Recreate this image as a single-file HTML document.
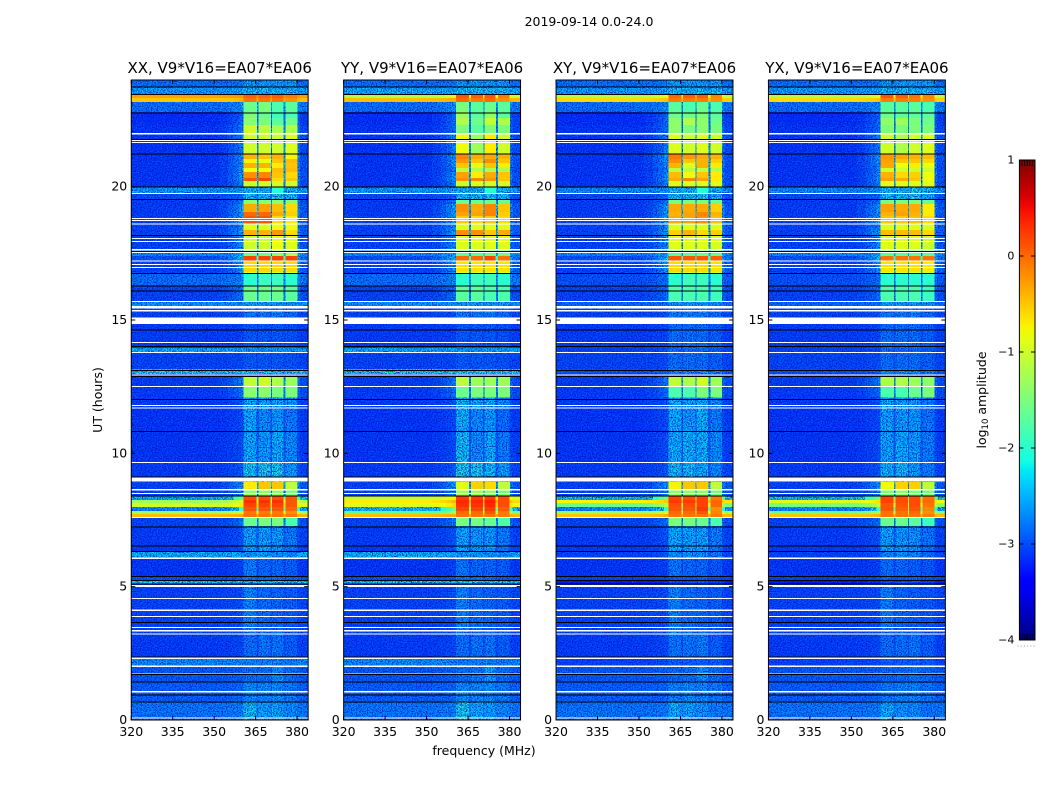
<!DOCTYPE html>
<html>
<head>
<meta charset="utf-8">
<title>2019-09-14 0.0-24.0</title>
<style>
html,body{margin:0;padding:0;background:#fff;}
svg{display:block;}
text{font-family:"DejaVu Sans","Liberation Sans",sans-serif;fill:#000;}
</style>
</head>
<body>
<svg id="fig" xmlns="http://www.w3.org/2000/svg" width="1050" height="800" viewBox="0 0 1050 800">
<defs>
<filter id="speckle" x="0" y="0" width="1" height="1" color-interpolation-filters="sRGB">
<feTurbulence type="fractalNoise" baseFrequency="0.8" numOctaves="1" seed="7" result="n"/>
<feColorMatrix in="n" type="matrix" values="0 0 0 0 0  0 0 0 0 0.42  0 0 0 0 1  3 0 0 0 -1.4" result="light"/>
<feColorMatrix in="n" type="matrix" values="0 0 0 0 0  0 0 0 0 0.05  0 0 0 0 0.78  0 3 0 0 -1.25" result="dark"/>
<feMerge result="m"><feMergeNode in="light"/><feMergeNode in="dark"/></feMerge>
<feComposite in="m" in2="SourceGraphic" operator="atop"/>
</filter>
<linearGradient id="jet-gradient" x1="0" y1="1" x2="0" y2="0"></linearGradient>
</defs>
<text x="589" y="26" font-size="12.5" text-anchor="middle">2019-09-14 0.0-24.0</text>
<text x="0" y="0" font-size="12.5" text-anchor="middle" transform="translate(102 400) rotate(-90)">UT (hours)</text>
<text x="484" y="755" font-size="12.5" text-anchor="middle">frequency (MHz)</text>
<text x="0" y="0" font-size="12.5" text-anchor="middle" transform="translate(986 400) rotate(-90)">log<tspan font-size="8.5" dy="2">10</tspan><tspan dy="-2"> amplitude</tspan></text>
<g id="panels"></g>
<g id="colorbar"></g>
</svg>
<script>
// ---- shared axes data ----
var panelNames = ["XX", "YY", "XY", "YX"];
var panelTitleSuffix = ", V9*V16=EA07*EA06";
var xTicks = [320, 335, 350, 365, 380];
var yTicks = [0, 5, 10, 15, 20];
var colorbarTicks = [1, 0, -1, -2, -3, -4];
var colorbarTickLabels = ["1", "0", "\u22121", "\u22122", "\u22123", "\u22124"];

// time rows (hours, top to bottom)
var rowEdgeHours = [24,23.74,23.44,23.33,23.18,22.80,22.58,22.31,21.98,21.23,21.04,20.89,20.70,20.55,20.33,20.21,19.99,19.73,19.50,19.35,19.05,18.90,18.60,18.38,18.15,17.63,17.40,17.21,16.80,16.73,16.28,15.68,15.49,15.11,13.95,13.76,13.16,12.98,12.86,12.49,12.11,11.70,10.84,9.64,8.93,8.63,8.40,8.25,8.14,7.99,7.84,7.73,7.61,7.28,6.30,6.04,5.36,5.25,5.10,4.99,3.19,2.33,2.03,1.46,0.71,0];

// frequency bins (MHz). binWindow: index of spectral window, -1 = background bin
var freqEdges = [320,345,352,355,357,359,360.6,365.3,366,370.4,370.9,375,375.8,380,381,384];
var binWindow = [-1,-1,-1,-1,-1,-1,0,-1,1,-1,2,-1,3,-1,-1];
var binLeak = [0,0,0.04,0.1,0.16,0.25,0,0.32,0,0.32,0,0.32,0,0.2,0.08];

// background log10 amplitude per row
var bgXX = [-2.7,-2.4,-.3,-.5,-2.7,-3.15,-3.15,-3.1,-3.1,-3.1,-3.1,-3.1,-3.1,-3.1,-3.1,-3.1,-2.4,-2.95,-3.05,-3.05,-3.05,-3,-3,-3,-3,-2.5,-2.9,-3,-3,-2.7,-3,-2.45,-3,-3.05,-2.3,-3,-2.1,-3,-3.05,-3.05,-3.05,-3.1,-3.1,-3.05,-3,-3,-2.3,-1.3,-1,-2.5,-1.3,-.45,-3,-3.05,-2.25,-3.1,-2.9,-2.15,-3.1,-3,-3.05,-2.5,-2.85,-2.8,-2.65];
var bgYY = [-2.7,-2.3,-1.2,-.45,-2.7,-3.15,-3.15,-3.1,-3.1,-3.1,-3.1,-3.1,-3.1,-3.1,-3.1,-3.1,-2.4,-2.95,-3.05,-3.05,-3.05,-3,-3,-3,-3,-2.5,-2.9,-3,-3,-2.7,-3,-2.45,-3,-3.05,-2.3,-3,-2.1,-3,-3.05,-3.05,-3.05,-3.1,-3.1,-3.05,-3,-3,-1.1,-.7,-.9,-2.2,-1.7,-.45,-3,-3.05,-2.25,-3.1,-2.9,-2.15,-3.1,-3,-3.05,-2.5,-2.85,-2.8,-2.65];
var bgXY = [-2.7,-2.4,-1.2,-.6,-2.7,-3.15,-3.15,-3.1,-3.1,-3.1,-3.1,-3.1,-3.1,-3.1,-3.1,-3.1,-2.5,-2.95,-3.05,-3.05,-3.05,-3,-3,-3,-3,-2.5,-2.9,-3,-3,-2.9,-3,-2.75,-3,-3.05,-3,-3,-2.9,-3,-3.05,-3.05,-3.05,-3.1,-3.1,-3.05,-3,-3,-2.2,-.75,-1.6,-2.5,-1.3,-.5,-3,-3.05,-3,-3.1,-3,-3.3,-3.1,-3,-3.05,-3,-2.85,-2.8,-2.65];
var bgYX = [-2.7,-2.4,-1.2,-.6,-2.7,-3.15,-3.15,-3.1,-3.1,-3.1,-3.1,-3.1,-3.1,-3.1,-3.1,-3.1,-2.5,-2.95,-3.05,-3.05,-3.05,-3,-3,-3,-3,-2.5,-2.9,-3,-3,-2.9,-3,-2.75,-3,-3.05,-3,-3,-2.9,-3,-3.05,-3.05,-3.05,-3.1,-3.1,-3.05,-3,-3,-2.2,-.9,-1.5,-2.5,-1.6,-.5,-3,-3.05,-3,-3.1,-3,-3.3,-3.1,-3,-3.05,-3,-2.85,-2.8,-2.65];

// four spectral-window log10 amplitudes per row
var spwXX = [[-2.4,-2.4,-2.4,-2.4],[-2.2,-2.2,-2.2,-2.2],[.05,.05,.05,-.1],[-.05,-.05,-.05,-.2],[-1.6,-1.5,-1.8,-1.7],[-1.5,-1.6,-1.9,-1.8],[-1.4,-1.5,-1.7,-1.6],[-1,-1.1,-1.2,-1.2],[-1,-1,-1,-.9],[-.4,-.5,-.4,-.75],[-.75,-.8,-.5,-.45],[-.4,-.4,-.7,-.5],[-.8,-.8,-.45,-.45],[-.2,-.15,-.5,-.6],[.1,.2,-.6,-.5],[-1,-1,-1,-1],[-2.2,-2.2,-2,-2.2],[-2.2,-2.2,-2.1,-2.2],[-1.4,-1.4,-1.4,-1.4],[-.35,-.3,-.45,-.6],[0,0,-.35,-.55],[.1,.1,-.6,-.7],[-.9,-.9,-.8,-.8],[-.4,-.4,-.25,-.6],[-1,-1,-.8,-.9],[-1.6,-1.6,-1.4,-1.2],[.2,.2,.2,.2],[-.6,-.6,-.6,-.6],[-.9,-.9,-.9,-.9],[-2,-1.9,-1.9,-2],[-1.6,-1.6,-1.6,-1.7],[-2.4,-2.4,-2.4,-2.4],[-2.6,-2.6,-2.6,-2.7],[-2.85,-2.85,-2.85,-2.9],[-2.4,-2.4,-2.4,-2.4],[-2.85,-2.85,-2.85,-2.9],[-2.1,-2.1,-2.1,-2.1],[-2.8,-2.8,-2.8,-2.8],[-1.1,-1,-1.2,-1.3],[-1.4,-1.4,-1.5,-1.5],[-2.3,-2.3,-2.3,-2.4],[-2.3,-2.5,-2.4,-2.6],[-2.3,-2.4,-2.3,-2.5],[-2.15,-2.05,-2.1,-2.4],[-.7,-.5,-.5,-1.1],[-1.4,-1.4,-1.4,-1.5],[.15,.15,.15,.1],[.3,.3,.3,.1],[.2,.2,.2,.1],[.1,.1,.1,.0],[-.1,-.1,-.1,-.2],[-.05,-.05,-.05,-.1],[-1.6,-1.5,-1.5,-1.8],[-2.35,-2.35,-2.4,-2.6],[-2.4,-2.4,-2.45,-2.5],[-2.6,-2.75,-2.75,-2.8],[-2.7,-2.7,-2.7,-2.8],[-2.15,-2.15,-2.15,-2.15],[-2.8,-2.8,-2.8,-2.9],[-2.55,-2.7,-2.75,-2.8],[-2.7,-2.65,-2.65,-2.8],[-2.55,-2.55,-2.55,-2.6],[-2.7,-2.7,-2.5,-2.7],[-2.5,-2.5,-2.5,-2.6],[-2.2,-2.35,-2.35,-2.5]];
var spwYY = [[-2.4,-2.4,-2.4,-2.4],[-2.2,-2.2,-2.2,-2.2],[.1,.05,.1,-.1],[.0,-.1,.0,-.2],[-1.5,-1.7,-1.6,-1.7],[-1.3,-1.7,-1.4,-1.7],[-1.2,-1.6,-1.1,-1.2],[-1.5,-1.7,-1.5,-1.5],[-.8,-1.3,-.7,-1],[-.15,-.35,-.35,-.4],[-.25,-.5,-.2,-.5],[-.5,-.85,-.5,-.7],[-1.1,-1.2,-1.2,-1.2],[-.3,-.7,-.35,-.5],[-.2,-.15,-.25,-.5],[-1,-.9,-1,-1],[-2.2,-2.2,-2,-2.2],[-2.2,-2.2,-2.1,-2.2],[-1.6,-1.6,-1.6,-1.6],[-.2,-.35,-.15,-.5],[-.3,-.3,-.15,-.55],[-.5,-.6,-.5,-.6],[-.9,-.9,-.9,-.9],[-.2,-.2,-.5,-.35],[-.9,-.9,-.9,-.9],[-1.7,-1.7,-1.6,-1.6],[.0,.0,.2,-.05],[-.65,-.65,-.65,-.65],[-.9,-.9,-.9,-.9],[-2,-1.9,-1.9,-2],[-1.7,-1.7,-1.8,-1.8],[-2.4,-2.4,-2.4,-2.4],[-2.6,-2.6,-2.6,-2.7],[-2.85,-2.85,-2.85,-2.9],[-2.4,-2.4,-2.4,-2.4],[-2.85,-2.85,-2.85,-2.9],[-2.1,-2.1,-2.1,-2.1],[-2.8,-2.8,-2.8,-2.8],[-1.1,-1.3,-1.3,-1.3],[-1.6,-1.5,-1.5,-1.5],[-2.2,-2.3,-2.3,-2.5],[-2.25,-2.5,-2.4,-2.7],[-2.2,-2.5,-2.3,-2.6],[-2.1,-2.1,-2.2,-2.4],[-.9,-.55,-.6,-1.1],[-1.3,-1.3,-1.4,-1.5],[.25,.25,.25,.15],[.35,.35,.4,.15],[.3,.3,.35,.15],[.2,.2,.25,.05],[.0,.0,.1,-.1],[-.05,-.05,-.05,-.1],[-1.5,-1.5,-1.6,-1.8],[-2.35,-2.4,-2.4,-2.6],[-2.4,-2.4,-2.45,-2.5],[-2.65,-2.75,-2.75,-2.8],[-2.7,-2.7,-2.7,-2.8],[-2.15,-2.15,-2.15,-2.15],[-2.8,-2.8,-2.8,-2.9],[-2.55,-2.7,-2.75,-2.8],[-2.7,-2.65,-2.65,-2.8],[-2.55,-2.55,-2.55,-2.6],[-2.7,-2.65,-2.4,-2.7],[-2.5,-2.5,-2.5,-2.6],[-2.1,-2.3,-2.35,-2.5]];
var spwXY = [[-2.4,-2.4,-2.4,-2.4],[-2.2,-2.2,-2.2,-2.2],[.0,.05,.05,-.15],[-.1,-.1,-.1,-.2],[-1.7,-1.8,-1.6,-1.8],[-1.6,-1.6,-1.5,-1.7],[-1.4,-1.2,-1.4,-1.6],[-1.4,-1.5,-1.4,-1.5],[-.9,-1,-.9,-1],[-.1,-.25,-.35,-.4],[-.2,-.5,-.4,-.55],[-.4,-.9,-.4,-.7],[-1.1,-1.1,-1.1,-1.2],[-.45,-.8,-.5,-.7],[-.35,-.15,-.3,-.7],[-.9,-.9,-.9,-.9],[-2.2,-2.2,-2,-2.2],[-2.2,-2.2,-2.1,-2.3],[-1.5,-1.5,-1.5,-1.6],[-.35,-.35,-.35,-.55],[-.4,-.3,-.15,-.4],[-.35,-.3,-.2,-.45],[-.9,-.9,-.9,-.9],[-.55,-.4,-.6,-.55],[-.9,-.9,-.9,-.95],[-1.7,-1.7,-1.6,-1.7],[.1,.1,.1,.05],[-.6,-.6,-.6,-.65],[-.9,-.9,-.9,-.9],[-2,-1.9,-1.9,-2],[-1.8,-1.8,-1.8,-1.9],[-2.4,-2.4,-2.4,-2.4],[-2.6,-2.6,-2.6,-2.7],[-2.7,-2.7,-2.7,-2.8],[-2.7,-2.7,-2.7,-2.8],[-2.7,-2.7,-2.7,-2.8],[-2.5,-2.5,-2.5,-2.6],[-2.8,-2.8,-2.8,-2.8],[-1.1,-1.2,-1,-1.3],[-1.8,-1.8,-1.5,-1.5],[-2.3,-2.35,-2.3,-2.5],[-2.3,-2.4,-2.25,-2.6],[-2.3,-2.25,-2.25,-2.5],[-2.2,-2.2,-2.3,-2.5],[-.75,-.5,-.5,-1.1],[-1.4,-1.4,-1.4,-1.5],[.2,.15,.2,-.1],[.25,.25,.2,.0],[.15,.15,.2,.0],[.1,.1,.25,-.2],[.0,.0,.1,-.15],[-.05,-.05,-.05,-.1],[-1.5,-1.5,-1.6,-1.8],[-2.3,-2.35,-2.35,-2.6],[-2.45,-2.45,-2.45,-2.6],[-2.65,-2.75,-2.75,-2.85],[-2.8,-2.8,-2.8,-2.9],[-2.9,-2.9,-2.9,-3],[-2.8,-2.9,-2.9,-2.9],[-2.55,-2.7,-2.75,-2.8],[-2.65,-2.65,-2.6,-2.8],[-2.8,-2.8,-2.8,-2.8],[-2.75,-2.7,-2.5,-2.7],[-2.55,-2.5,-2.5,-2.6],[-2.25,-2.35,-2.45,-2.6]];
var spwYX = [[-2.4,-2.4,-2.4,-2.4],[-2.2,-2.2,-2.2,-2.2],[.1,.05,-.05,-.15],[-.1,-.1,-.1,-.2],[-1.7,-1.7,-1.7,-1.8],[-1.6,-1.7,-1.7,-1.7],[-1.4,-1.3,-1.5,-1.6],[-1.5,-1.5,-1.5,-1.5],[-1,-1.2,-1,-.9],[-.25,-.35,-.4,-.45],[-.3,-.5,-.5,-.6],[-.35,-.8,-.7,-.8],[-1,-1,-1,-1],[-.4,-.6,-.55,-.8],[-.3,-.35,-.5,-.8],[-.9,-.9,-.9,-.9],[-2.2,-2.2,-2.1,-2.2],[-2.2,-2.2,-2.1,-2.3],[-1.5,-1.5,-1.5,-1.6],[-.3,-.35,-.35,-.7],[-.4,-.3,-.4,-.7],[-.5,-.5,-.45,-.6],[-.9,-.9,-.9,-.9],[-.45,-.45,-.45,-.6],[-.9,-.9,-.9,-1],[-1.7,-1.7,-1.7,-1.7],[-.05,-.05,-.05,-.05],[-.65,-.65,-.65,-.7],[-.9,-.9,-.9,-.9],[-2,-2,-2,-2],[-1.8,-1.8,-1.8,-1.9],[-2.4,-2.4,-2.4,-2.4],[-2.6,-2.6,-2.6,-2.7],[-2.7,-2.7,-2.7,-2.8],[-2.7,-2.7,-2.7,-2.8],[-2.7,-2.7,-2.7,-2.8],[-2.5,-2.5,-2.5,-2.6],[-2.8,-2.8,-2.8,-2.8],[-1.2,-1.2,-1.3,-1.4],[-1.8,-1.8,-1.6,-1.5],[-2.3,-2.35,-2.4,-2.6],[-2.35,-2.4,-2.4,-2.65],[-2.35,-2.3,-2.4,-2.6],[-2.25,-2.2,-2.4,-2.6],[-.8,-.55,-.55,-1.1],[-1.5,-1.4,-1.5,-1.5],[.2,.15,.15,-.05],[.2,.15,.15,.0],[.1,.1,.15,-.05],[.1,.05,.1,-.15],[-.05,-.05,.0,-.2],[-.05,-.05,-.05,-.1],[-1.6,-1.6,-1.7,-1.9],[-2.35,-2.4,-2.45,-2.65],[-2.5,-2.5,-2.5,-2.7],[-2.7,-2.75,-2.8,-2.85],[-2.8,-2.8,-2.8,-2.9],[-2.9,-2.9,-2.9,-3],[-2.8,-2.9,-2.9,-2.9],[-2.6,-2.75,-2.8,-2.85],[-2.7,-2.7,-2.65,-2.8],[-2.8,-2.8,-2.8,-2.8],[-2.75,-2.75,-2.65,-2.75],[-2.6,-2.55,-2.55,-2.65],[-2.3,-2.45,-2.5,-2.65]];

// flagged (blank) time ranges in hours, [start, end]
var flagHourRanges = [[22.01,21.96],[21.75,21.71],[21.68,21.64],[19.76,19.73],[18.83,18.79],[18.75,18.71],[18.62,18.58],[18.08,18.04],[17.96,17.93],[17.66,17.61],[17.55,17.51],[17.23,17.19],[17.10,17.06],[16.99,16.95],[15.71,15.68],[15.53,15.43],[15.38,15.32],[15.09,14.85],[14.64,14.61],[14.18,14.14],[13.80,13.76],[12.96,12.92],[12.53,12.49],[11.81,11.78],[11.72,11.68],[9.68,9.64],[9.13,8.94],[8.66,8.61],[8.52,8.48],[7.61,7.58],[6.10,6.04],[5.06,4.98],[4.58,4.53],[4.15,4.09],[3.90,3.86],[3.49,3.45],[3.38,3.31],[3.24,3.20],[2.36,2.29],[2.05,1.99],[1.75,1.71],[1.08,1.04],[0.10,0.05]];
// zero-amplitude scan boundaries in hours
var scanGapHours = [23.75,23.48,22.79,21.79,21.25,20.01,19.53,18.19,17.59,16.76,16.30,16.11,14.64,14.03,13.13,12.90,12.03,10.83,9.14,8.41,7.26,6.54,6.33,5.40,5.25,5.12,3.68,2.38,1.73,1.45,0.96,0.70];

var backgrounds = [bgXX, bgYY, bgXY, bgYX];
var windowLevels = [spwXX, spwYY, spwXY, spwYX];

// ---- layout ----
var NS = "http://www.w3.org/2000/svg";
var plotTop = 80, plotBottom = 720, plotWidth = 176.9, panelLeft = 131.25, panelStep = 212.4;
var freqMin = 320, freqMax = 384, hourMin = 0, hourMax = 24, vMin = -4, vMax = 1;

function xScale(f, left) { return left + (f - freqMin) / (freqMax - freqMin) * plotWidth; }
function yScale(h) { return plotBottom - (h - hourMin) / (hourMax - hourMin) * (plotBottom - plotTop); }
function interp(pts, t) {
  for (var i = 1; i < pts.length; i++) {
    if (t <= pts[i][0]) {
      return pts[i-1][1] + (t - pts[i-1][0]) / (pts[i][0] - pts[i-1][0]) * (pts[i][1] - pts[i-1][1]);
    }
  }
  return pts[pts.length-1][1];
}
var jetR = [[0,0],[.35,0],[.66,1],[.89,1],[1,.5]];
var jetG = [[0,0],[.125,0],[.375,1],[.64,1],[.91,0],[1,0]];
var jetB = [[0,.5],[.11,1],[.34,1],[.65,0],[1,0]];
function jet(v) {
  var t = Math.max(0, Math.min(1, (v - vMin) / (vMax - vMin)));
  return "rgb(" + Math.round(255*interp(jetR,t)) + "," + Math.round(255*interp(jetG,t)) + "," + Math.round(255*interp(jetB,t)) + ")";
}
function mk(tag, parent) {
  var el = document.createElementNS(NS, tag);
  parent.appendChild(el);
  return el;
}
function put(el, x, y, w, h, fill) {
  el.setAttribute("x", x);
  el.setAttribute("y", y);
  el.setAttribute("width", w);
  el.setAttribute("height", h);
  el.setAttribute("fill", fill);
}
function line(el, x1, y1, x2, y2) {
  el.setAttribute("x1", x1);
  el.setAttribute("y1", y1);
  el.setAttribute("x2", x2);
  el.setAttribute("y2", y2);
  el.setAttribute("stroke", "#000");
  el.setAttribute("stroke-width", "1");
}

var panelsRoot = document.getElementById("panels");
panelNames.forEach(function (pname, p) {
  var left = panelLeft + p * panelStep;
  var right = left + plotWidth;
  var bg = backgrounds[p], spw = windowLevels[p];

  var panel = mk("g", panelsRoot);
  
  

  var noisy = mk("g", panel);
  
  
  noisy.setAttribute("filter", "url(#speckle)");
  noisy.setAttribute("shape-rendering", "crispEdges");

  var clean = mk("g", panel);
  
  
  clean.setAttribute("shape-rendering", "crispEdges");

  for (var r = 0; r < bg.length; r++) {
    var yTop = yScale(rowEdgeHours[r]);
    var yBot = yScale(rowEdgeHours[r + 1]);
    var lv = spw[r];
    var meanSpw = (lv[0] + lv[1] + lv[2] + lv[3]) / 4;
    for (var c = 0; c < binWindow.length; c++) {
      var level = binWindow[c] >= 0 ? lv[binWindow[c]] : bg[r] + binLeak[c] * (meanSpw - bg[r]);
      var x0 = xScale(freqEdges[c], left);
      var x1 = xScale(freqEdges[c + 1], left);
      var cell = mk("rect", level < -2 ? noisy : clean);
      
      
      put(cell, x0.toFixed(2), yTop.toFixed(2), (x1 - x0 + 0.3).toFixed(2), (yBot - yTop + 0.3).toFixed(2), jet(level));
    }
  }

  flagHourRanges.forEach(function (f) {
    var flag = mk("rect", panel);
    
    
    flag.setAttribute("shape-rendering", "crispEdges");
    put(flag, left.toFixed(2), yScale(f[0]).toFixed(2), plotWidth, Math.max(1, yScale(f[1]) - yScale(f[0])).toFixed(2), "#fff");
  });
  scanGapHours.forEach(function (h) {
    var gap = mk("rect", panel);
    
    
    gap.setAttribute("shape-rendering", "crispEdges");
    put(gap, left.toFixed(2), yScale(h).toFixed(2), plotWidth, 1, "#000");
  });

  var frame = mk("rect", panel);
  
  
  put(frame, left.toFixed(2), plotTop, plotWidth, plotBottom - plotTop, "none");
  frame.setAttribute("stroke", "#000");
  frame.setAttribute("stroke-width", "1");

  xTicks.forEach(function (f) {
    var x = xScale(f, left);
    var tb = mk("line", panel);
    
    
    line(tb, x, plotBottom, x, plotBottom - 4);
    var tt = mk("line", panel);
    
    
    line(tt, x, plotTop, x, plotTop + 4);
    var lab = mk("text", panel);
    
    
    lab.setAttribute("x", x);
    lab.setAttribute("y", plotBottom + 16);
    lab.setAttribute("font-size", "12.5");
    lab.setAttribute("text-anchor", "middle");
    lab.textContent = f;
  });
  yTicks.forEach(function (h) {
    var y = yScale(h);
    var tl = mk("line", panel);
    
    
    line(tl, left, y, left + 4, y);
    var tr = mk("line", panel);
    
    
    line(tr, right, y, right - 4, y);
    var lab = mk("text", panel);
    
    
    lab.setAttribute("x", left - 4);
    lab.setAttribute("y", y + 4);
    lab.setAttribute("font-size", "12.5");
    lab.setAttribute("text-anchor", "end");
    lab.textContent = h;
  });

  var title = mk("text", panel);
  
  
  title.setAttribute("x", left + plotWidth / 2);
  title.setAttribute("y", plotTop - 7);
  title.setAttribute("font-size", "15");
  title.setAttribute("text-anchor", "middle");
  title.textContent = pname + panelTitleSuffix;
});

// ---- colorbar ----
var cbLeft = 1019.4, cbRight = 1035, cbTop = 160, cbBottom = 640;
function cbY(v) { return cbBottom - (v - vMin) / (vMax - vMin) * (cbBottom - cbTop); }
var grad = document.getElementById("jet-gradient");
for (var s = 0; s <= 40; s++) {
  var stop = mk("stop", grad);
  stop.setAttribute("offset", (s / 40));
  stop.setAttribute("stop-color", jet(vMin + (vMax - vMin) * s / 40));
}
var cb = document.getElementById("colorbar");
var cbRect = mk("rect", cb);


put(cbRect, cbLeft, cbTop, cbRight - cbLeft, cbBottom - cbTop, "url(#jet-gradient)");
cbRect.setAttribute("stroke", "#000");
cbRect.setAttribute("stroke-width", "1");

colorbarTicks.forEach(function (v, i) {
  var y = cbY(v);
  var tl = mk("line", cb);
  
  
  line(tl, cbLeft, y, cbLeft + 4, y);
  var tr = mk("line", cb);
  
  
  line(tr, cbRight, y, cbRight - 4, y);
  var lab = mk("text", cb);
  
  
  lab.setAttribute("x", cbLeft - 5);
  lab.setAttribute("y", y + 3.5);
  lab.setAttribute("font-size", "11");
  lab.setAttribute("text-anchor", "end");
  lab.textContent = colorbarTickLabels[i];
});
for (var m = 1; m <= 5; m++) {
  var mx = cbLeft + m * (cbRight - cbLeft) / 6;
  var mt = mk("line", cb);
  
  
  line(mt, mx, cbTop, mx, cbTop + 6);
  var mb = mk("line", cb);
  
  
  line(mb, mx, cbBottom, mx, cbBottom - 6);
}
for (var d = 0; d < 6; d++) {
  var dot = mk("rect", cb);
  
  
  put(dot, 1017.5 + d * 3.2, 645.5, 1, 1, "#999");
}
</script>
</body>
</html>
